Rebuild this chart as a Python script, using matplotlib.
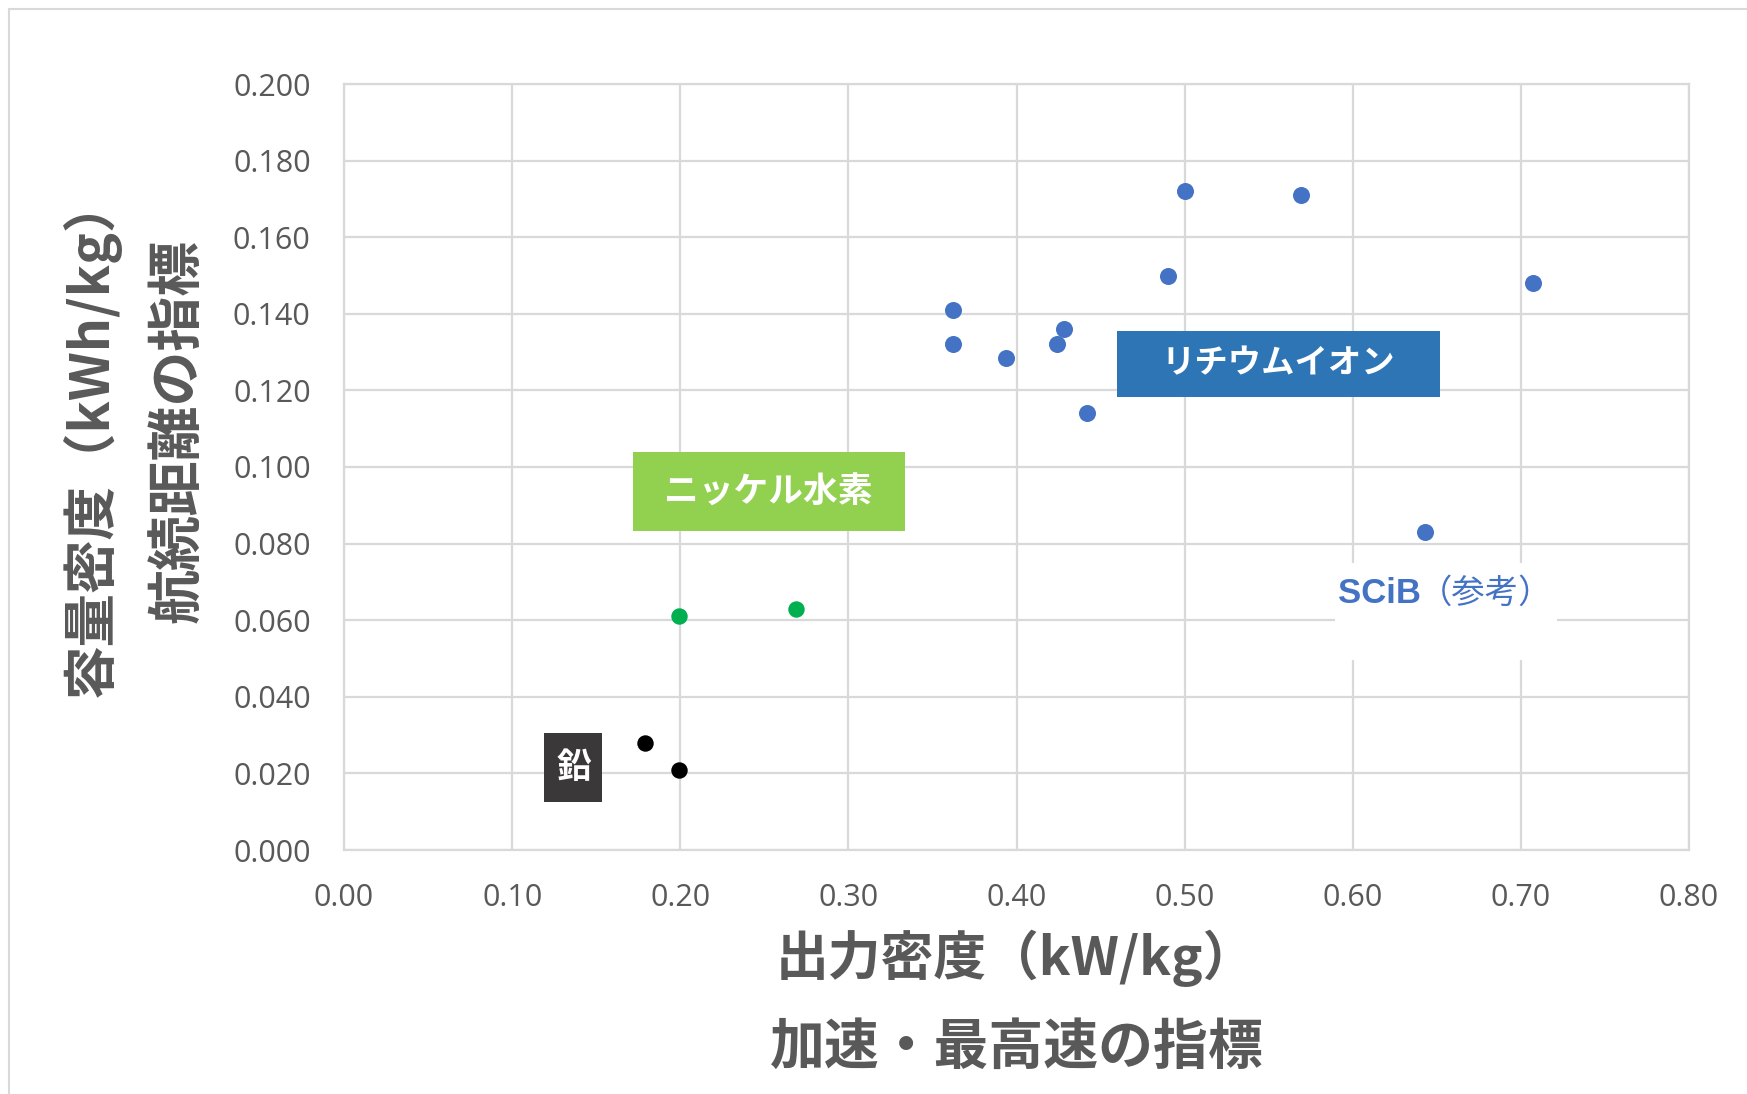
import matplotlib
matplotlib.use("Agg")
import matplotlib.pyplot as plt
from matplotlib.patches import Rectangle

# Battery types: power density (kW/kg) vs. energy density (kWh/kg)
li_ion_power = [0.500, 0.569, 0.490, 0.707, 0.362, 0.362, 0.394, 0.428, 0.424, 0.442, 0.643]
li_ion_energy = [0.172, 0.171, 0.150, 0.148, 0.141, 0.132, 0.1285, 0.136, 0.132, 0.114, 0.083]
nimh_power = [0.199, 0.269]
nimh_energy = [0.061, 0.063]
lead_power = [0.179, 0.199]
lead_energy = [0.028, 0.021]

x_ticks = [0.0, 0.1, 0.2, 0.3, 0.4, 0.5, 0.6, 0.7, 0.8]
y_ticks = [0.0, 0.02, 0.04, 0.06, 0.08, 0.10, 0.12, 0.14, 0.16, 0.18, 0.20]

TEXT_GRAY = "#595959"
GRID = "#D9D9D9"
CJK = ["Noto Sans CJK JP", "DejaVu Sans"]

fig = plt.figure(figsize=(17.47, 10.94), dpi=100)
fig.patch.set_facecolor("white")

# chart-area frame
fig.add_artist(Rectangle((9 / 1747, -0.5), 1.2, 1.5 - 9 / 1094, transform=fig.transFigure,
                         fill=False, ec=GRID, lw=1.5))

ax = fig.add_axes([344 / 1747, 1 - 850 / 1094, (1689 - 344) / 1747, (850 - 84) / 1094])
ax.set_xlim(0, 0.8)
ax.set_ylim(0, 0.2)
ax.set_xticks(x_ticks)
ax.set_yticks(y_ticks)
ax.set_xticklabels([f"{v:.2f}" for v in x_ticks])
ax.set_yticklabels([f"{v:.3f}" for v in y_ticks])
ax.grid(True, color=GRID, lw=1.6, zorder=0)
ax.set_axisbelow(True)
for s in ax.spines.values():
    s.set_color(GRID)
    s.set_linewidth(1.6)
ax.tick_params(length=0, labelsize=22, labelcolor=TEXT_GRAY)
for lab in ax.get_xticklabels() + ax.get_yticklabels():
    lab.set_family("Open Sans")
ax.tick_params(axis="x", pad=24)
ax.tick_params(axis="y", pad=24)

ax.scatter(li_ion_power, li_ion_energy, s=150, color="#4472C4", zorder=3, linewidths=0)
ax.scatter(nimh_power, nimh_energy, s=140, color="#00B050", zorder=3, linewidths=0)
ax.scatter(lead_power, lead_energy, s=140, color="#000000", zorder=3, linewidths=0)

# category labels on filled boxes: (text, center x, center y, box w, box h, face, fontsize)
px_x = 0.8 / (1689 - 344)
px_y = 0.2 / (850 - 84)
labels = [
    ("リチウムイオン", 0.556, 0.1269, 323, 66, "#2E75B6", 24),
    ("ニッケル水素", 0.2525, 0.0935, 272, 79, "#92D050", 25),
    ("鉛", 0.1365, 0.0215, 58, 69, "#3A3838", 25),
]
for txt, cx, cy, w, h, fc, fs in labels:
    ax.add_patch(Rectangle((cx - w * px_x / 2, cy - h * px_y / 2), w * px_x, h * px_y,
                           facecolor=fc, edgecolor="none", zorder=4))
    ax.text(cx, cy, txt, ha="center", va="center", color="white", fontsize=fs,
            fontweight="bold", family=CJK, zorder=5)

# reference label with white backing over the grid
box_cx, box_cy = 0.6555, 0.0623
ax.add_patch(Rectangle((box_cx - 222 * px_x / 2, box_cy - 97 * px_y / 2), 222 * px_x, 97 * px_y,
                       facecolor="white", edgecolor="none", zorder=2))
ax.text(0.6157, 0.0671, "SCiB", ha="center", va="center", color="#4472C4",
        fontsize=25, fontweight="heavy", family=["Liberation Sans", "DejaVu Sans"], zorder=5)
ax.text(0.679, 0.0671, "（参考）", ha="center", va="center", color="#4472C4",
        fontsize=24, family=CJK, zorder=5)

# axis titles
fig.text(1016 / 1747, 1 - 958 / 1094, "出力密度（kW/kg）", ha="center", va="center",
         fontsize=38, fontweight="bold", color=TEXT_GRAY, family=CJK)
fig.text(1017 / 1747, 1 - 1047 / 1094, "加速・最高速の指標", ha="center", va="center",
         fontsize=39.5, fontweight="bold", color=TEXT_GRAY, family=CJK)
fig.text(91 / 1747, 1 - 436 / 1094, "容量密度（kWh/kg）", ha="center", va="center",
         rotation=90, fontsize=38.5, fontweight="bold", color=TEXT_GRAY, family=CJK)
fig.text(178 / 1747, 1 - 431 / 1094, "航続距離の指標", ha="center", va="center",
         rotation=90, fontsize=39.5, fontweight="bold", color=TEXT_GRAY, family=CJK)

fig.savefig("out.png", dpi=100, facecolor="white")
